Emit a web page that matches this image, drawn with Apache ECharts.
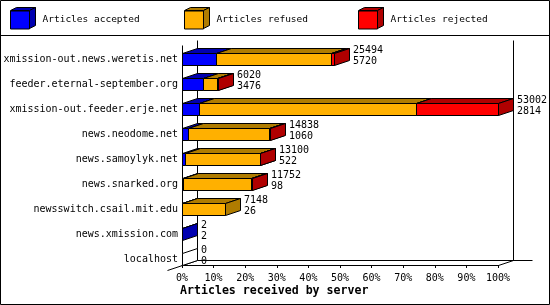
<!DOCTYPE html>
<html>
<head>
<meta charset="utf-8">
<script src="https://cdn.jsdelivr.net/npm/echarts@6/dist/echarts.min.js"></script>
<style>
html,body{margin:0;padding:0;background:#fff;}
#chart{width:550px;height:305px;}
</style>
</head>
<body>
<div id="chart"></div>
<script>
// ---- data ----
const categories = [
  'xmission-out.news.weretis.net',
  'feeder.eternal-september.org',
  'xmission-out.feeder.erje.net',
  'news.neodome.net',
  'news.samoylyk.net',
  'news.snarked.org',
  'newsswitch.csail.mit.edu',
  'news.xmission.com',
  'localhost'
];
const seriesNames = ['Articles accepted', 'Articles refused', 'Articles rejected'];
const accepted = [5720, 3476, 2814, 1060, 522, 98, 26, 2, 0];
const refused  = [19214, 2364, 36370, 13490, 12518, 11554, 7122, 0, 0];
const rejected = [560, 180, 13818, 288, 60, 100, 0, 0, 0];
const totals   = [25494, 6020, 53002, 14838, 13100, 11752, 7148, 2, 0];
const xTicks = [0, 10, 20, 30, 40, 50, 60, 70, 80, 90, 100];

// ---- styles ----
const colors = ['#0000ff', '#ffb000', '#ff0000'];
const shades = ['#0000b0', '#b07c00', '#b00000'];
const FONT = '"DejaVu Sans Mono", "Liberation Mono", monospace';
const DX = 15, DY = 5;

const maxTotal = Math.max.apply(null, totals);
const segs = [accepted, refused, rejected];
const pct = v => v / maxTotal * 100;

function segData(j) {
  return categories.map((c, i) => {
    let start = 0;
    for (let k = 0; k < j; k++) start += segs[k][i];
    return [i, pct(start), pct(start + segs[j][i]), totals[i]];
  });
}

function px(v) { return Math.round(v) + 0.5; }

function makeRender(j) {
  return function (params, api) {
    const cat = api.value(0), s = api.value(1), e = api.value(2), tot = api.value(3);
    const p0 = api.coord([s, cat]), p1 = api.coord([e, cat]);
    const xa = px(p0[0]), xb = px(p1[0]);
    const yt = px(p0[1] - 6), yb = yt + 12;
    const stroke = {stroke: '#000', lineWidth: 1};
    if (e - s <= 0) {
      if (j === 0 && tot === 0) {
        return {type: 'polygon', shape: {points: [[xb, yt], [xb + DX, yt - DY], [xb + DX, yb - DY], [xb, yb]]},
          style: Object.assign({fill: '#fff'}, stroke)};
      }
      return null;
    }
    return {
      type: 'group',
      children: [
        {type: 'polygon', shape: {points: [[xa, yt], [xb, yt], [xb + DX, yt - DY], [xa + DX, yt - DY]]},
          style: Object.assign({fill: shades[j]}, stroke)},
        {type: 'polygon', shape: {points: [[xb, yt], [xb + DX, yt - DY], [xb + DX, yb - DY], [xb, yb]]},
          style: Object.assign({fill: shades[j]}, stroke)},
        {type: 'rect', shape: {x: xa, y: yt, width: xb - xa, height: 12},
          style: Object.assign({fill: colors[j]}, stroke)}
      ]
    };
  };
}

function renderFrame(params, api) {
  const cs = params.coordSys;
  const x0 = px(cs.x), x1 = px(cs.x + cs.width);
  const yB = px(api.coord([0, categories.length - 1])[1] + 6);
  const yT = px(api.coord([0, 0])[1] - 14);
  const st = {stroke: '#000', lineWidth: 1};
  const L = (a, b, c, d) => ({type: 'line', shape: {x1: a, y1: b, x2: c, y2: d}, style: st});
  return {
    type: 'group',
    children: [
      L(x0, yT, x0, yB),
      L(x0 - DX, yB + DY, x0 + DX, yB - DY),
      L(x1, yB, x1 + DX, yB - DY),
      L(x0 + DX, yB - DY, x1 + DX + 19, yB - DY),
      L(x0 + DX, yT - DY, x0 + DX, yB - DY),
      L(x1 + DX, yT - DY, x1 + DX, yB - DY)
    ]
  };
}

function renderLabels(params, api) {
  const cat = api.value(0), e = api.value(1);
  const p = api.coord([e, cat]);
  return {
    type: 'text',
    x: Math.round(p[0]) + DX + 4,
    y: p[1] - 3.5,
    style: {
      text: api.value(2) + '\n' + api.value(3),
      font: '10px ' + FONT,
      fill: '#000',
      align: 'left',
      verticalAlign: 'middle',
      lineHeight: 11
    }
  };
}

const legendLeft = [10, 184, 358];
const legendTop = 10.5;
const graphics = [
  {type: 'rect', shape: {x: 0.5, y: 0.5, width: 549, height: 304}, style: {fill: 'none', stroke: '#000', lineWidth: 1}, z: 100},
  {type: 'line', shape: {x1: 0, y1: 35.5, x2: 550, y2: 35.5}, style: {stroke: '#000', lineWidth: 1}, z: 100}
];
legendLeft.forEach((lx, i) => {
  const a = lx + 0.5, b = legendTop, w = 19, h = 18, dx = 6, dy = 3;
  graphics.push({type: 'polygon', shape: {points: [[a, b], [a + w, b], [a + w + dx, b - dy], [a + dx, b - dy]]},
    style: {fill: shades[i], stroke: '#000', lineWidth: 1}, z: 100});
  graphics.push({type: 'polygon', shape: {points: [[a + w, b], [a + w + dx, b - dy], [a + w + dx, b + h - dy], [a + w, b + h]]},
    style: {fill: shades[i], stroke: '#000', lineWidth: 1}, z: 100});
});

const series = [{
  name: 'frame', type: 'custom', renderItem: renderFrame, data: [[0, 0]],
  encode: {x: 0, y: 1}, silent: true, z: 1
}];
seriesNames.forEach((n, j) => {
  series.push({
    name: n, type: 'custom', renderItem: makeRender(j), data: segData(j),
    encode: {x: [1, 2], y: 0}, itemStyle: {color: colors[j]}, z: 2 + j
  });
});
series.push({
  name: 'labels', type: 'custom', renderItem: renderLabels,
  data: categories.map((c, i) => [i, pct(totals[i]), totals[i], accepted[i]]),
  encode: {x: 1, y: 0}, silent: true, z: 10
});

const chart = echarts.init(document.getElementById('chart'), null, {renderer: 'canvas'});
chart.setOption({
  animation: false,
  backgroundColor: '#fff',
  title: {
    text: 'Articles received by server', left: 180, top: 285, padding: 0,
    textStyle: {fontFamily: FONT, fontSize: 11.6, fontWeight: 'bold', color: '#000'}
  },
  legend: seriesNames.map((n, i) => ({
    data: [n], left: legendLeft[i], top: legendTop, padding: 0,
    itemWidth: 19, itemHeight: 18, icon: 'rect', selectedMode: false,
    itemStyle: {borderColor: '#000', borderWidth: 1},
    textStyle: {fontFamily: FONT, fontSize: 9.5, color: '#000', padding: [1, 0, 0, 8]}
  })),
  grid: {left: 182, right: 52, top: 46.5, bottom: 33.5, containLabel: false},
  xAxis: {
    type: 'value', min: xTicks[0], max: xTicks[xTicks.length - 1], interval: xTicks[1] - xTicks[0],
    offset: -6.5,
    axisLine: {show: true, lineStyle: {color: '#000', width: 1}},
    axisTick: {show: true, length: 3, lineStyle: {color: '#000'}},
    splitLine: {show: false},
    axisLabel: {formatter: '{value}%', margin: 8, color: '#000', fontFamily: FONT, fontSize: 10}
  },
  yAxis: {
    type: 'category', data: categories, inverse: true,
    axisLine: {show: false}, axisTick: {show: false}, splitLine: {show: false},
    axisLabel: {margin: 4, color: '#000', fontFamily: FONT, fontSize: 10}
  },
  graphic: graphics,
  series: series
});
</script>
</body>
</html>
